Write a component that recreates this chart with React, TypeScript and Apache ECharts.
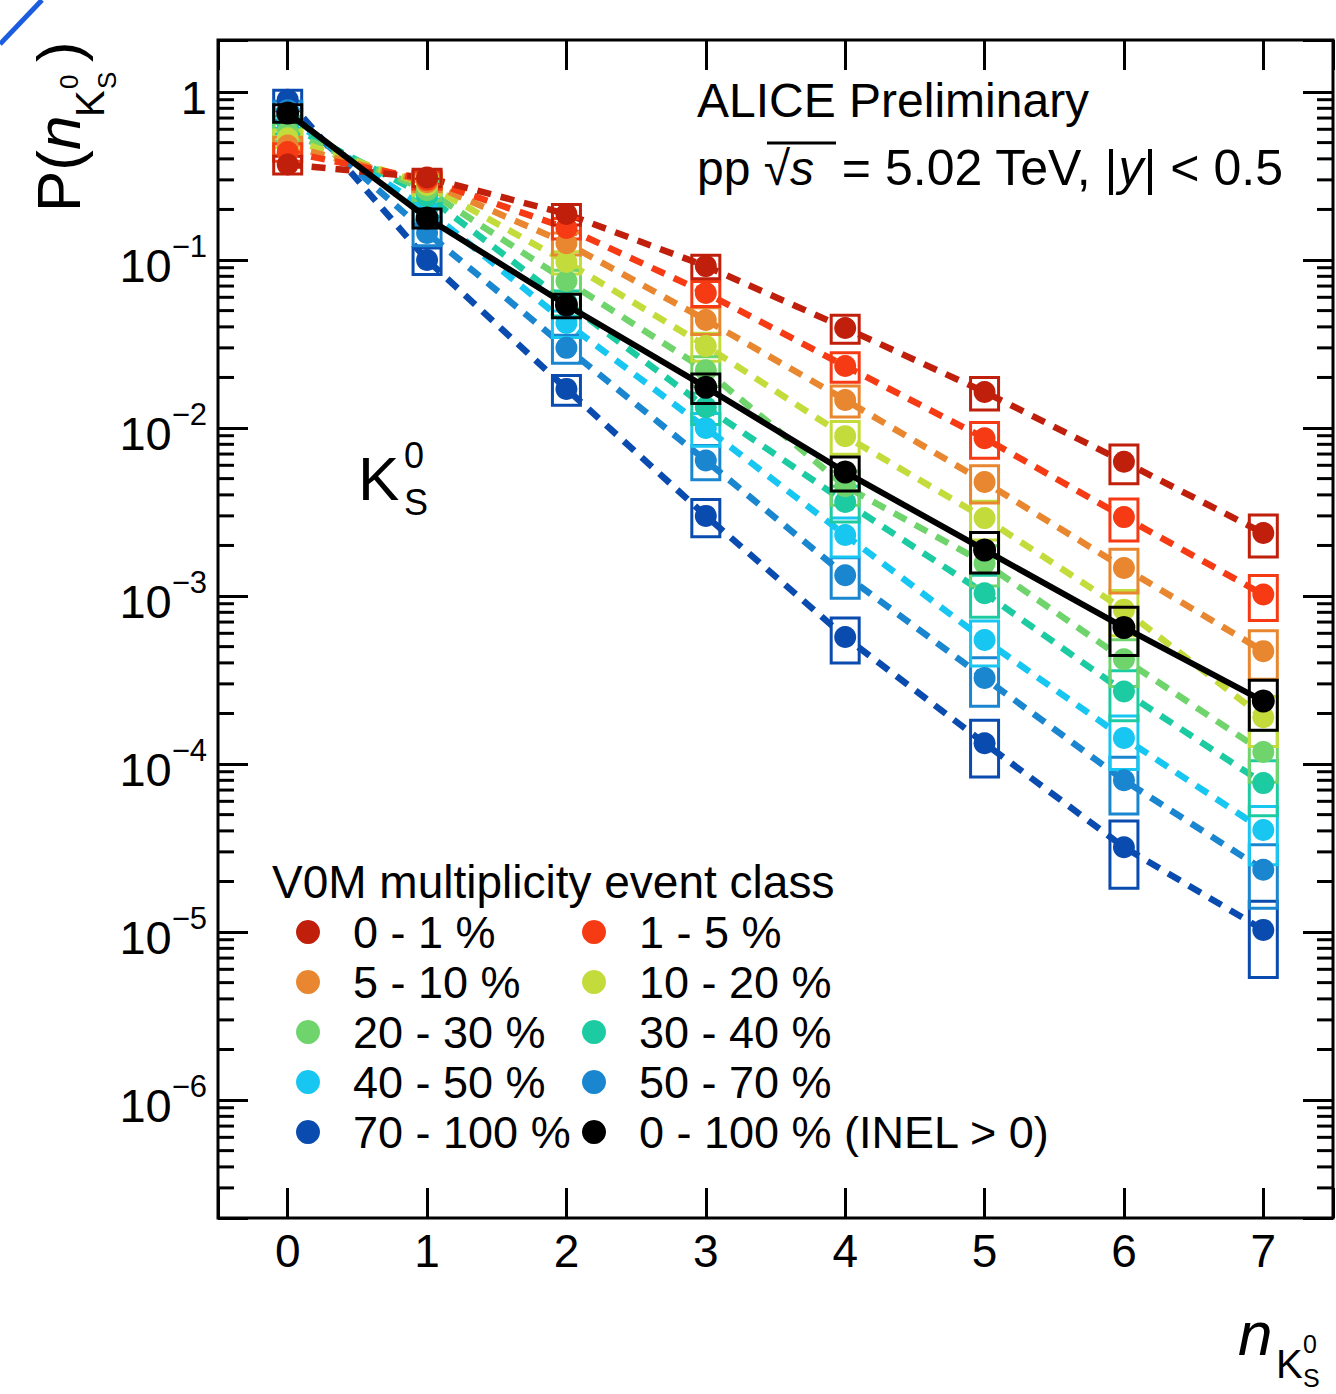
import React, { useEffect, useRef } from 'react';
import * as echarts from 'echarts';

// ---------------- data ----------------
const N_VALUES = [0, 1, 2, 3, 4, 5, 6, 7];

const CLASS_LABELS = ['0 - 1 %', '1 - 5 %', '5 - 10 %', '10 - 20 %', '20 - 30 %', '30 - 40 %', '40 - 50 %', '50 - 70 %', '70 - 100 %'];
const CLASS_COLORS = ['#c01f0b', '#f63b14', '#e8872f', '#c4dc3b', '#6fd46b', '#1dcba2', '#17c6f1', '#1a86cf', '#0a4bb0'];

const P_0_1 = [0.37, 0.31, 0.188, 0.092, 0.0394, 0.0164, 0.0063, 0.00237];
const P_1_5 = [0.44, 0.30, 0.155, 0.0637, 0.0234, 0.0087, 0.00295, 0.00102];
const P_5_10 = [0.48, 0.29, 0.126, 0.044, 0.0147, 0.00477, 0.00147, 0.00047];
const P_10_20 = [0.53, 0.28, 0.0973, 0.0308, 0.00895, 0.00291, 0.00083, 0.00019];
const P_20_30 = [0.58, 0.26, 0.075, 0.0221, 0.0045, 0.00157, 0.00042, 0.000118];
const P_30_40 = [0.64, 0.24, 0.056, 0.0133, 0.00363, 0.00104, 0.00027, 0.000077];
const P_40_50 = [0.70, 0.20, 0.0422, 0.010, 0.00231, 0.000547, 0.000143, 0.0000405];
const P_50_70 = [0.78, 0.145, 0.030, 0.0064, 0.00133, 0.000325, 0.000080, 0.0000235];
const P_70_100 = [0.90, 0.10, 0.0171, 0.0030, 0.00057, 0.000133, 0.000032, 0.0000103];

const SYS_0_1 = [0.12, 0.12, 0.14, 0.16, 0.19, 0.22, 0.26, 0.28];
const SYS_1_5 = [0.12, 0.12, 0.14, 0.17, 0.20, 0.24, 0.28, 0.30];
const SYS_5_10 = [0.12, 0.12, 0.15, 0.18, 0.21, 0.25, 0.29, 0.32];
const SYS_10_20 = [0.12, 0.13, 0.15, 0.19, 0.22, 0.26, 0.30, 0.33];
const SYS_20_30 = [0.12, 0.13, 0.16, 0.20, 0.23, 0.27, 0.31, 0.34];
const SYS_30_40 = [0.12, 0.14, 0.17, 0.21, 0.24, 0.28, 0.33, 0.36];
const SYS_40_50 = [0.13, 0.15, 0.18, 0.22, 0.26, 0.30, 0.35, 0.38];
const SYS_50_70 = [0.13, 0.16, 0.19, 0.23, 0.27, 0.32, 0.37, 0.41];
const SYS_70_100 = [0.14, 0.18, 0.20, 0.25, 0.30, 0.37, 0.43, 0.48];

const TOTAL_LABEL = '0 - 100 % (INEL > 0)';
const P_TOTAL = [0.75, 0.178, 0.054, 0.0175, 0.00547, 0.00188, 0.00065, 0.000237];
const SYS_TOTAL = [0.12, 0.13, 0.16, 0.20, 0.23, 0.27, 0.32, 0.33];

const CLASS_VALUES = [P_0_1, P_1_5, P_5_10, P_10_20, P_20_30, P_30_40, P_40_50, P_50_70, P_70_100];
const CLASS_SYS = [SYS_0_1, SYS_1_5, SYS_5_10, SYS_10_20, SYS_20_30, SYS_30_40, SYS_40_50, SYS_50_70, SYS_70_100];

const LEGEND_COL1 = [CLASS_LABELS[0], CLASS_LABELS[2], CLASS_LABELS[4], CLASS_LABELS[6], CLASS_LABELS[8]];
const LEGEND_COL2 = [CLASS_LABELS[1], CLASS_LABELS[3], CLASS_LABELS[5], CLASS_LABELS[7], TOTAL_LABEL];

const X_MIN = -0.5;
const X_MAX = 7.5;
const Y_MIN = 1.986e-7;
const Y_MAX = 2.04;
const MINOR_MULTS = [2, 3, 4, 5, 6, 7, 8, 9];
const MINOR_DECADES = [-7, -6, -5, -4, -3, -2, -1, 0];

const FONT = '"Liberation Sans", Arial, Helvetica, sans-serif';

function boxSeries(name: string, color: string, vals: number[], sys: number[], z: number) {
  return {
    type: 'custom',
    name: name + ' syst',
    xAxisIndex: 0,
    yAxisIndex: 0,
    z,
    silent: true,
    encode: { x: 0, y: 1 },
    data: N_VALUES.map((n, i) => [n, vals[i], vals[i] * (1 - sys[i]), vals[i] * (1 + sys[i])]),
    renderItem: (params: any, api: any) => {
      const x = api.value(0);
      const pHi = api.coord([x, api.value(3)]);
      const pLo = api.coord([x, api.value(2)]);
      const w = 28;
      return {
        type: 'rect',
        shape: { x: pHi[0] - w / 2, y: pHi[1], width: w, height: pLo[1] - pHi[1] },
        style: { fill: 'none', stroke: color, lineWidth: 3 },
      };
    },
  };
}

function buildOption() {
  const minorVals: number[] = [];
  MINOR_DECADES.forEach((e) => {
    MINOR_MULTS.forEach((m) => {
      const v = m * Math.pow(10, e);
      if (v > Y_MIN * 1.02 && v < Y_MAX * 0.98) minorVals.push(v);
    });
  });

  const series: any[] = [];
  series.push({
    type: 'custom',
    name: 'minor ticks',
    silent: true,
    z: 1,
    clip: false,
    encode: { x: 0, y: 1 },
    data: minorVals.map((v) => [0, v]),
    renderItem: (params: any, api: any) => {
      const p = api.coord([0, api.value(1)]);
      const cs = params.coordSys;
      const st = { stroke: '#000', lineWidth: 3 };
      return {
        type: 'group',
        children: [
          { type: 'line', shape: { x1: cs.x, y1: p[1], x2: cs.x + 16, y2: p[1] }, style: st },
          { type: 'line', shape: { x1: cs.x + cs.width - 16, y1: p[1], x2: cs.x + cs.width, y2: p[1] }, style: st },
        ],
      };
    },
  });

  const order = [8, 7, 6, 5, 4, 3, 2, 1, 0];
  order.forEach((k) => {
    series.push({
      type: 'line',
      name: CLASS_LABELS[k] + ' line',
      data: N_VALUES.map((n, i) => [n, CLASS_VALUES[k][i]]),
      symbol: 'none',
      showSymbol: false,
      silent: true,
      z: 2,
      lineStyle: { color: CLASS_COLORS[k], width: 6.5, type: [14, 10] },
    });
  });
  order.forEach((k) => {
    series.push(boxSeries(CLASS_LABELS[k], CLASS_COLORS[k], CLASS_VALUES[k], CLASS_SYS[k], 3));
  });
  order.forEach((k) => {
    series.push({
      type: 'scatter',
      name: CLASS_LABELS[k],
      data: N_VALUES.map((n, i) => [n, CLASS_VALUES[k][i]]),
      symbol: 'circle',
      symbolSize: 22,
      z: 4,
      itemStyle: { color: CLASS_COLORS[k], opacity: 1 },
    });
  });
  series.push({
    type: 'line',
    name: TOTAL_LABEL + ' line',
    data: N_VALUES.map((n, i) => [n, P_TOTAL[i]]),
    symbol: 'none',
    showSymbol: false,
    silent: true,
    z: 5,
    lineStyle: { color: '#000', width: 6, type: 'solid' },
  });
  series.push(boxSeries(TOTAL_LABEL, '#000', P_TOTAL, SYS_TOTAL, 6));
  series.push({
    type: 'scatter',
    name: TOTAL_LABEL,
    data: N_VALUES.map((n, i) => [n, P_TOTAL[i]]),
    symbol: 'circle',
    symbolSize: 23,
    z: 7,
    itemStyle: { color: '#000', opacity: 1 },
  });

  const tickStyle = { color: '#000', width: 3 };
  const legendBase = {
    orient: 'vertical',
    top: 907,
    itemWidth: 24,
    itemHeight: 24,
    itemGap: 0,
    padding: 0,
    icon: 'circle',
    selectedMode: false,
    textStyle: { fontSize: 45, lineHeight: 50, color: '#000', fontFamily: FONT, padding: [0, 0, 0, 28] },
  };

  const txt = (text: string, x: number, y: number, fs: number, extra: any = {}) => ({
    type: 'text',
    x,
    y,
    silent: true,
    style: { text, fontSize: fs, fontFamily: FONT, fill: '#000', align: 'left', verticalAlign: 'middle', ...extra },
  });

  // y-axis title pieces (local coords, rotated group)
  const yTitle = {
    type: 'group',
    x: 80,
    y: 212,
    rotation: Math.PI / 2,
    silent: true,
    children: [
      txt('P(', 0, -21.7, 62),
      txt('n', 62, -21.7, 62, { fontStyle: 'italic' }),
      txt('K', 95, 10, 40),
      txt('0', 123, -11, 26),
      txt('S', 123, 27, 26),
      txt(')', 150, -21.7, 62),
    ],
  };

  const graphic = [
    { type: 'line', silent: true, shape: { x1: 0, y1: 44, x2: 42, y2: 0 }, style: { stroke: '#1c5de0', lineWidth: 5 } },
    txt('ALICE Preliminary', 697, 100, 48),
    {
      type: 'text',
      x: 697,
      y: 168,
      silent: true,
      style: {
        text: '{r|pp }{r|\u221A}{i|s}{t|  = 5.02 TeV, |}{j|y}{t|| < 0.5}',
        fontSize: 48,
        fontFamily: FONT,
        fill: '#000',
        align: 'left',
        verticalAlign: 'middle',
        rich: {
          r: { fontSize: 48, fontFamily: FONT, fill: '#000' },
          i: { fontSize: 48, fontFamily: FONT, fill: '#000', fontStyle: 'italic' },
          t: { fontSize: 50, fontFamily: FONT, fill: '#000' },
          j: { fontSize: 50, fontFamily: FONT, fill: '#000', fontStyle: 'italic' },
        },
      },
    },
    { type: 'line', silent: true, shape: { x1: 767, y1: 143, x2: 836, y2: 143 }, style: { stroke: '#000', lineWidth: 3 } },
    txt('K', 358, 478, 62),
    txt('0', 404, 455, 36),
    txt('S', 404, 502, 36),
    txt('V0M multiplicity event class', 272, 882, 46),
    yTitle,
    txt('n', 1238, 1333, 62, { fontStyle: 'italic' }),
    txt('K', 1276, 1364, 40),
    txt('0', 1303, 1344, 25),
    txt('S', 1303, 1378, 25),
  ];

  return {
    animation: false,
    backgroundColor: '#fff',
    grid: { left: 218, top: 40, width: 1115, height: 1178, show: true, borderColor: '#000', borderWidth: 3, backgroundColor: 'transparent' },
    xAxis: [
      {
        type: 'value', min: X_MIN, max: X_MAX, splitNumber: 8, position: 'bottom',
        axisLine: { show: false, onZero: false },
        axisTick: { inside: true, length: 30, lineStyle: tickStyle },
        axisLabel: {
          fontSize: 46, color: '#000', fontFamily: FONT, margin: 10,
          formatter: (v: number) => (Math.abs(v - Math.round(v)) < 1e-6 ? String(Math.round(v)) : ''),
        },
        splitLine: { show: false },
      },
      {
        type: 'value', min: X_MIN, max: X_MAX, splitNumber: 8, position: 'top',
        axisLine: { show: false, onZero: false },
        axisTick: { inside: true, length: 30, lineStyle: tickStyle },
        axisLabel: { show: false },
        splitLine: { show: false },
      },
    ],
    yAxis: [
      {
        type: 'log', logBase: 10, min: Y_MIN, max: Y_MAX, position: 'left',
        axisLine: { show: false, onZero: false },
        axisTick: { inside: true, length: 30, lineStyle: tickStyle },
        axisLabel: {
          margin: 11,
          formatter: (v: number) => {
            const lg = Math.log10(v);
            const e = Math.round(lg);
            if (Math.abs(lg - e) > 0.01) return '';
            if (e === 0) return '{b|1}';
            return '{b|10}{s|' + (e < 0 ? '\u2212' + -e : String(e)) + '}';
          },
          rich: {
            b: { fontSize: 47, lineHeight: 58, fontFamily: FONT, color: '#000', verticalAlign: 'bottom' },
            s: { fontSize: 31, lineHeight: 30, fontFamily: FONT, color: '#000', verticalAlign: 'top' },
          },
        },
        splitLine: { show: false },
        minorTick: { show: false },
      },
      {
        type: 'log', logBase: 10, min: Y_MIN, max: Y_MAX, position: 'right',
        axisLine: { show: false, onZero: false },
        axisTick: { inside: true, length: 30, lineStyle: tickStyle },
        axisLabel: { show: false },
        splitLine: { show: false },
      },
    ],
    legend: [
      { ...legendBase, left: 296, data: LEGEND_COL1 },
      { ...legendBase, left: 582, data: LEGEND_COL2 },
    ],
    graphic,
    series,
  };
}

export default function App() {
  const ref = useRef<HTMLDivElement>(null);
  useEffect(() => {
    if (!ref.current) return;
    const chart = echarts.init(ref.current, undefined, { renderer: 'svg' });
    chart.setOption(buildOption() as any);
    return () => chart.dispose();
  }, []);
  return (
    <div
      ref={ref}
      style={{ position: 'fixed', left: 0, top: 0, width: 1336, height: 1394, background: '#fff' }}
    />
  );
}
